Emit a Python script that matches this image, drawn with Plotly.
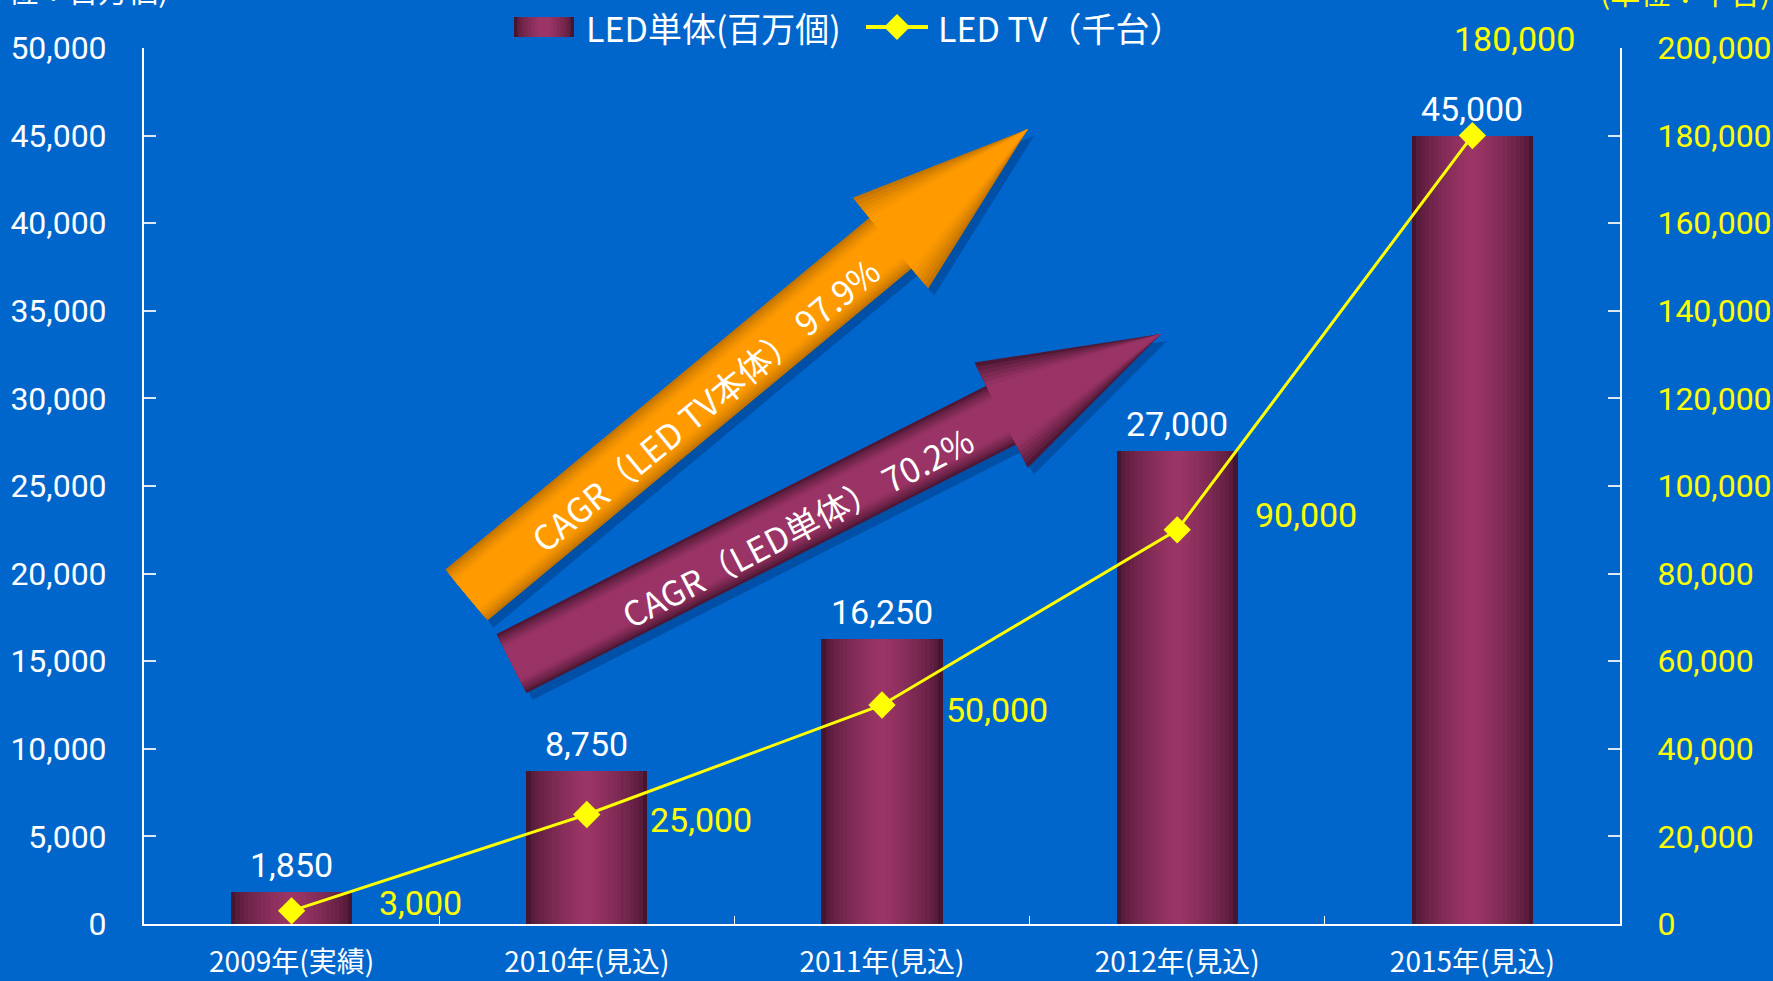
import plotly.graph_objects as go
import math

# ---------------- data ----------------
categories = ["2009年(実績)", "2010年(見込)", "2011年(見込)", "2012年(見込)", "2015年(見込)"]
led_units = [1850, 8750, 16250, 27000, 45000]          # 百万個 (left axis)
led_tv = [3000, 25000, 50000, 90000, 180000]           # 千台 (right axis)
legend_names = ["LED単体(百万個)", "LED TV（千台）"]
arrow_texts = ["CAGR（LED TV本体） 97.9%", "CAGR（LED単体） 70.2%"]
unit_left = "(単位：百万個)"
unit_right = "(単位：千台)"

# ---------------- layout constants ----------------
W, H = 1773, 981
L, R, T, B = 144, 1620, 48, 924
BG = "#0066CC"
YEL = "#FFFF00"
FONT = "Roboto, Noto Sans CJK JP, sans-serif"
CJK = "Noto Sans CJK JP, Roboto, sans-serif"


def px(x):
    return (x - L) / (R - L)


def py(y):
    return (B - y) / (B - T)


def mix(c1, c2, t):
    return "rgb(%d,%d,%d)" % tuple(round(a + (b - a) * t) for a, b in zip(c1, c2))


fig = go.Figure()

# gradient bars (overlayed narrowing bars)
BW = 0.41
N = 14
edge = (70, 21, 48)
center = (156, 53, 103)
for i in range(N):
    frac = 1 - i / N
    t = (i / (N - 1)) ** 0.6
    fig.add_trace(go.Bar(
        x=categories, y=led_units, width=BW * frac,
        marker=dict(color=mix(edge, center, t), line=dict(width=0)),
        name=legend_names[0], showlegend=False,
        hoverinfo="skip" if i else None,
    ))

fig.add_trace(go.Scatter(
    x=categories, y=led_tv, yaxis="y2", mode="lines+markers",
    line=dict(color=YEL, width=3),
    marker=dict(symbol="diamond", size=21, color=YEL),
    name=legend_names[1], showlegend=False,
))

annotations = []
shapes = []
# bar value labels
for c, v in zip(categories, led_units):
    annotations.append(dict(x=c, y=v, xref="x", yref="y", text=f"{v:,}", showarrow=False,
                            yshift=27, xanchor="center", yanchor="middle",
                            font=dict(family=FONT, size=34, color="white")))
# line value labels
offs = [(85, 8, "left"), (61, -5, "left"), (62, -5, "left"), (76, 15, "left"), (42, 97, "center")]
for c, v, (dx, dy, xa) in zip(categories, led_tv, offs):
    annotations.append(dict(x=c, y=v, xref="x", yref="y2", text=f"{v:,}", showarrow=False,
                            xshift=dx, yshift=dy, xanchor=xa, yanchor="middle",
                            font=dict(family=FONT, size=34, color=YEL)))
# unit titles (partly above the top edge, as in the original)
annotations.append(dict(x=px(170), y=py(-11), xref="paper", yref="paper", text=unit_left,
                        showarrow=False, xanchor="right", yanchor="middle",
                        font=dict(family=CJK, size=30, color="white")))
annotations.append(dict(x=px(1772), y=py(-9), xref="paper", yref="paper", text=unit_right,
                        showarrow=False, xanchor="right", yanchor="middle",
                        font=dict(family=CJK, size=30, color=YEL)))

# ---------------- custom legend ----------------
LY = 27
SW0, SW1 = 514, 574
M = 8
for k in range(M):
    inset = k * (SW1 - SW0) / 2 / M * 0.9
    shapes.append(dict(type="rect", xref="paper", yref="paper", layer="above",
                       x0=px(SW0 + inset), x1=px(SW1 - inset), y0=py(LY + 10), y1=py(LY - 10),
                       fillcolor=mix(edge, center, (k / (M - 1)) ** 0.6), line=dict(width=0)))
annotations.append(dict(x=px(584), y=py(LY), xref="paper", yref="paper", text=legend_names[0],
                        showarrow=False, xanchor="left", yanchor="middle",
                        font=dict(family=CJK, size=34, color="white")))
shapes.append(dict(type="line", xref="paper", yref="paper", layer="above",
                   x0=px(866), x1=px(928), y0=py(LY), y1=py(LY), line=dict(color=YEL, width=4)))
DX, DY = 897, LY
shapes.append(dict(type="path", xref="paper", yref="paper", layer="above",
                   path=f"M {px(DX-13):.5f},{py(DY):.5f} L {px(DX):.5f},{py(DY-13):.5f} "
                        f"L {px(DX+13):.5f},{py(DY):.5f} L {px(DX):.5f},{py(DY+13):.5f} Z",
                   fillcolor=YEL, line=dict(width=0)))
annotations.append(dict(x=px(936), y=py(LY), xref="paper", yref="paper", text=legend_names[1],
                        showarrow=False, xanchor="left", yanchor="middle",
                        font=dict(family=CJK, size=34, color="white")))

# ---------------- decorative arrows ----------------


def arrow_path(tail, tip, notch_d, h, Hh, s, off=(0, 0)):
    dx, dy = tip[0] - tail[0], tip[1] - tail[1]
    ln = math.hypot(dx, dy)
    u = (dx / ln, dy / ln)
    n = (-u[1], u[0])
    nt = (tail[0] + u[0] * notch_d, tail[1] + u[1] * notch_d)
    pts = [
        (tail[0] + n[0] * h * s, tail[1] + n[1] * h * s),
        (nt[0] + n[0] * h * s, nt[1] + n[1] * h * s),
        (nt[0] + n[0] * Hh * s, nt[1] + n[1] * Hh * s),
        tip,
        (nt[0] - n[0] * Hh * s, nt[1] - n[1] * Hh * s),
        (nt[0] - n[0] * h * s, nt[1] - n[1] * h * s),
        (tail[0] - n[0] * h * s, tail[1] - n[1] * h * s),
    ]
    pts = [(x + off[0], y + off[1]) for x, y in pts]
    return "M " + " L ".join(f"{px(x):.5f},{py(y):.5f}" for x, y in pts) + " Z"


arrows = [
    dict(tail=(466.5, 595), tip=(1028, 129), notch=551, e=(196, 116, 0), c=(255, 155, 0),
         text_xy=(704, 404), ang=-39.5, text=arrow_texts[0]),
    dict(tail=(511.5, 663.5), tip=(1161, 334), notch=549, e=(78, 24, 52), c=(154, 52, 102),
         text_xy=(797, 526), ang=-27.5, text=arrow_texts[1]),
]
for a in arrows:
    shapes.append(dict(type="path", xref="paper", yref="paper", layer="above",
                       path=arrow_path(a["tail"], a["tip"], a["notch"], 33, 59, 1.0, off=(6, 7)),
                       fillcolor="#0050A8", line=dict(width=0)))
    MM = 10
    for k in range(MM):
        s = 1 - k * 0.075
        t = min(1.0, (k / (MM - 1)) * 1.6) ** 0.8
        shapes.append(dict(type="path", xref="paper", yref="paper", layer="above",
                           path=arrow_path(a["tail"], a["tip"], a["notch"], 33, 59, s),
                           fillcolor=mix(a["e"], a["c"], t), line=dict(width=0)))
    annotations.append(dict(x=px(a["text_xy"][0]), y=py(a["text_xy"][1]), xref="paper", yref="paper",
                            text=a["text"], showarrow=False, textangle=a["ang"],
                            xanchor="center", yanchor="middle",
                            font=dict(family=CJK, size=34, color="white")))

fig.update_layout(
    width=W, height=H,
    margin=dict(l=L, r=W - R, t=T, b=H - B, pad=0, autoexpand=False),
    paper_bgcolor=BG, plot_bgcolor=BG,
    barmode="overlay", bargap=0,
    showlegend=False,
    xaxis=dict(type="category", range=[-0.5, 4.5], showline=True, linecolor="white", linewidth=2,
               ticks="inside", tickson="boundaries", ticklen=8, tickcolor="white", tickwidth=1,
               showgrid=False, zeroline=False, ticklabelstandoff=12, automargin=False,
               tickfont=dict(family=CJK, size=28, color="white")),
    yaxis=dict(range=[0, 50000], dtick=5000, tickformat=",d", showline=True, linecolor="white",
               linewidth=2, ticks="inside", ticklen=12, tickcolor="#DDE8F5", tickwidth=2,
               showgrid=False, zeroline=False, ticklabelstandoff=29, automargin=False,
               tickfont=dict(family=FONT, size=32, color="white")),
    yaxis2=dict(range=[0, 200000], dtick=20000, tickformat=",d", overlaying="y", side="right",
                showline=True, linecolor="white", linewidth=2, ticks="inside", ticklen=12,
                tickcolor="#DDE8F5", tickwidth=2, showgrid=False, zeroline=False, automargin=False,
                ticklabelstandoff=29, tickfont=dict(family=FONT, size=32, color=YEL)),
    annotations=annotations,
    shapes=shapes,
)

fig.write_html("out.html")
